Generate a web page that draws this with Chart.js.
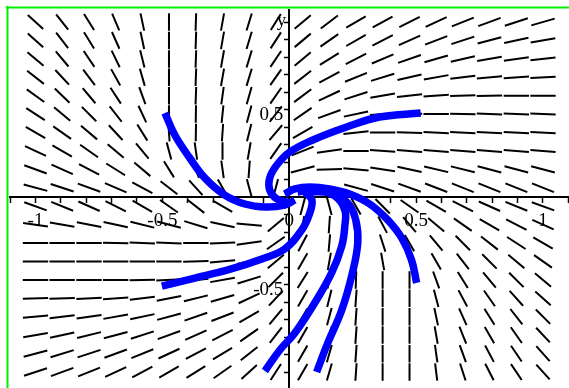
<!DOCTYPE html>
<html>
<head>
<meta charset="utf-8">
<script src="https://cdn.jsdelivr.net/npm/chart.js@4.4.1/dist/chart.umd.min.js"></script>
<style>
html, body { margin: 0; padding: 0; background: #fff; }
#view-canvas { display: block; }
</style>
</head>
<body>
<canvas id="view-canvas" width="569" height="388"></canvas>
<script>
var canvas = document.getElementById('view-canvas');

// direction field grid (20 x 20)
var fieldX = [-1, -0.895, -0.789, -0.684, -0.579, -0.474, -0.368, -0.263, -0.158, -0.053,
              0.053, 0.158, 0.263, 0.368, 0.474, 0.579, 0.684, 0.789, 0.895, 1];
var fieldY = [1, 0.895, 0.789, 0.684, 0.579, 0.474, 0.368, 0.263, 0.158, 0.053,
              -0.053, -0.158, -0.263, -0.368, -0.474, -0.579, -0.684, -0.789, -0.895, -1];

// slope of each field mark as seen on screen, degrees (rows top to bottom)
var fieldAngles = [
    [-42, -52, -58, -67, -78, 90, 88, 80, 73, 58, 40, 37, 30, 29, 27, 25, 22, 20, 18, 16],
    [-42, -52, -58, -66, -78, 90, 88, 80, 73, 57, 40, 35, 30, 27, 24, 21, 18, 15, 12, 10],
    [-40, -50, -56, -64, -76, 90, 88, 80, 73, 56, 40, 32, 27, 23, 19, 16, 13, 10, 8, 6],
    [-38, -47, -53, -61, -74, 90, 88, 80, 73, 55, 38, 28, 22, 17, 13, 10, 7, 5, 4, 3],
    [-36, -44, -50, -57, -70, 90, 88, 82, 74, 55, 37, 25, 18, 10, 6, 4, 2, 1, 0, 0],
    [-33, -40, -45, -52, -65, 90, 89, 84, 75, 52, 35, 20, 12, 4, 1, 0, -1, -2, -2, -2],
    [-30, -35, -40, -47, -58, -86, 89, 86, 76, 50, 30, 15, 6, 0, -2, -3, -3, -3, -3, -3],
    [-25, -30, -35, -40, -50, -75, -82, 90, 80, 55, 22, 8, 0, -4, -5, -5, -5, -5, -5, -5],
    [-20, -24, -28, -32, -40, -58, -70, -82, 86, 62, 15, 2, -5, -9, -12, -13, -14, -15, -15, -15],
    [-15, -18, -20, -23, -28, -38, -48, -60, -75, 75, 0, -10, -15, -18, -20, -21, -22, -22, -22, -22],
    [-20, -22, -24, -27, -30, -35, -38, -30, -15, 0, 75, -75, -60, -45, -35, -30, -27, -24, -22, -20],
    [-8, -10, -11, -12, -14, -15, -17, -12, -5, 40, 80, 86, -82, -62, -50, -40, -35, -30, -27, -24],
    [0, 0, 0, -1, -2, -2, 0, 2, 8, 35, 62, 85, 90, -72, -60, -50, -45, -38, -33, -30],
    [0, 0, 0, 0, 0, 0, 2, 5, 12, 40, 60, 80, 90, -80, -74, -60, -52, -45, -40, -35],
    [0, 0, 0, 0, 1, 3, 6, 10, 17, 45, 58, 78, 88, 90, 90, -70, -58, -50, -45, -40],
    [2, 2, 3, 4, 7, 11, 14, 16, 25, 47, 60, 76, 86, 90, 90, -75, -62, -55, -48, -42],
    [5, 7, 8, 10, 12, 15, 19, 21, 30, 50, 60, 75, 86, 90, 90, -78, -66, -58, -52, -45],
    [10, 12, 14, 15, 18, 20, 24, 27, 35, 52, 60, 75, 86, 90, 90, -80, -68, -60, -55, -47],
    [15, 17, 18, 20, 22, 25, 28, 31, 38, 55, 60, 74, 86, 90, 90, -82, -70, -62, -56, -48],
    [18, 20, 22, 25, 28, 30, 32, 35, 42, 57, 60, 74, 86, 90, 90, -83, -72, -63, -56, -48]
];

// solution curves [x, y]
var curve1 = [[-0.490, 0.480], [-0.451, 0.354], [-0.392, 0.223], [-0.333, 0.109], [-0.254, 0.011],
              [-0.175, -0.040], [-0.096, -0.057], [-0.018, -0.046], [0.022, -0.017]];
var curve2 = [[0.518, 0.480], [0.356, 0.457], [0.226, 0.400], [0.093, 0.326], [0.002, 0.257],
              [-0.049, 0.183], [-0.077, 0.109], [-0.077, 0.040], [-0.049, -0.011], [0.002, -0.034]];
var curve3 = [[-0.502, -0.509], [-0.372, -0.463], [-0.242, -0.417], [-0.108, -0.354], [-0.018, -0.297],
              [0.049, -0.189], [0.081, -0.091], [0.089, -0.017], [0.061, 0.029]];
var curve4 = [[0.502, -0.491], [0.482, -0.360], [0.443, -0.234], [0.388, -0.131], [0.317, -0.040],
              [0.238, 0.017], [0.159, 0.046], [0.081, 0.057], [0.022, 0.046], [-0.018, 0.017]];
var curve5 = [[-0.096, -0.994], [-0.037, -0.874], [0.022, -0.777], [0.100, -0.606], [0.167, -0.434],
              [0.207, -0.280], [0.219, -0.166], [0.219, -0.074], [0.179, 0.006], [0.100, 0.040], [0.033, 0.029]];
var curve6 = [[0.108, -1.0], [0.152, -0.834], [0.207, -0.646], [0.246, -0.451], [0.270, -0.263],
              [0.262, -0.131], [0.230, -0.034], [0.159, 0.023], [0.061, 0.029]];

// axis labels
var xLabelValues = [-1, -0.5, 0, 0.5, 1];
var xLabelTexts = ['-1', '-0.5', '0', '0.5', '1'];
var yLabelValues = [0.5, -0.5];
var yLabelTexts = ['0.5', '-0.5'];
var yAxisTitle = 'y';

var X_MIN = -1.1005, X_MAX = 1.1025;
var Y_MIN = -1.0914, Y_MAX = 1.0686;
var PAD = 10;
var SEG_HALF = 0.05;
var LABEL_FONT = '19px "Liberation Serif", "DejaVu Serif", serif';

function range(from, to, step) {
    var out = [];
    var n = Math.round((to - from) / step);
    for (var i = 0; i <= n; ++i) out.push(Math.round((from + i * step) * 100) / 100);
    return out;
}

// short marks of the direction field, separated by gaps
function fieldSegments() {
    var xpx = (canvas.width - PAD) / (X_MAX - X_MIN);
    var ypx = (canvas.height - PAD) / (Y_MAX - Y_MIN);
    var data = [];
    fieldY.forEach(function (cy, j) {
        fieldX.forEach(function (cx, i) {
            var a = fieldAngles[j][i] * Math.PI / 180;
            var dx = Math.cos(a) / xpx, dy = Math.sin(a) / ypx;
            var n = Math.sqrt(dx * dx + dy * dy);
            dx = dx / n * SEG_HALF;
            dy = dy / n * SEG_HALF;
            data.push({ x: cx - dx, y: cy - dy }, { x: cx + dx, y: cy + dy }, { x: cx, y: null });
        });
    });
    return data;
}

function curveDataset(points) {
    return {
        data: points.map(function (p) { return { x: p[0], y: p[1] }; }),
        showLine: true,
        borderColor: 'rgb(0, 0, 255)',
        borderWidth: 7.5,
        pointRadius: 0,
        tension: 0.4,
        order: 0
    };
}

var decor = {
    id: 'decor',
    beforeDraw: function (chart) {
        var c = chart.ctx;
        c.save();
        c.fillStyle = '#fff';
        c.fillRect(0, 0, chart.width, chart.height);
        c.strokeStyle = 'rgb(0, 240, 0)';
        c.lineWidth = 2;
        c.beginPath();
        c.moveTo(6, 7.5);
        c.lineTo(chart.width, 7.5);
        c.moveTo(7.5, 6);
        c.lineTo(7.5, chart.height);
        c.stroke();
        c.restore();
    },
    afterDatasetsDraw: function (chart) {
        var c = chart.ctx;
        var sx = chart.scales.x, sy = chart.scales.y;
        var x0 = sx.getPixelForValue(0), y0 = sy.getPixelForValue(0);
        c.save();
        c.fillStyle = '#000';
        c.font = LABEL_FONT;
        c.textBaseline = 'alphabetic';
        c.textAlign = 'center';
        xLabelValues.forEach(function (v, i) {
            c.fillText(xLabelTexts[i], sx.getPixelForValue(v), y0 + 29);
        });
        c.textAlign = 'right';
        yLabelValues.forEach(function (v, i) {
            c.fillText(yLabelTexts[i], x0 - 6, sy.getPixelForValue(v) + 10);
        });
        c.fillText(yAxisTitle, x0 - 3, sy.getPixelForValue(1) + 4);
        c.restore();
    }
};

var xTicks = range(-1.1, 1.1, 0.1);
var yTicks = range(-1.0, 1.0, 0.1);

var myChart = new Chart(canvas, {
    type: 'scatter',
    data: {
        datasets: [
            curveDataset(curve1), curveDataset(curve2), curveDataset(curve3),
            curveDataset(curve4), curveDataset(curve5), curveDataset(curve6),
            {
                data: fieldSegments(),
                showLine: true,
                spanGaps: false,
                borderColor: '#000',
                borderWidth: 2,
                pointRadius: 0,
                tension: 0,
                order: 1
            }
        ]
    },
    options: {
        responsive: false,
        animation: false,
        devicePixelRatio: 1,
        layout: { padding: { left: PAD, top: PAD, right: 0, bottom: 0 } },
        plugins: { legend: { display: false }, tooltip: { enabled: false } },
        scales: {
            x: {
                type: 'linear',
                min: X_MIN,
                max: X_MAX,
                position: { y: 0 },
                afterBuildTicks: function (scale) {
                    scale.ticks = xTicks.map(function (v) { return { value: v }; });
                },
                ticks: { display: false },
                grid: { drawOnChartArea: false, drawTicks: true, tickLength: 5, tickWidth: 1.5, tickColor: '#000' },
                border: { display: true, color: '#000', width: 2 }
            },
            y: {
                type: 'linear',
                min: Y_MIN,
                max: Y_MAX,
                position: { x: 0 },
                afterBuildTicks: function (scale) {
                    scale.ticks = yTicks.map(function (v) { return { value: v }; });
                },
                ticks: { display: false },
                grid: { drawOnChartArea: false, drawTicks: true, tickLength: 4, tickWidth: 1.5, tickColor: '#000' },
                border: { display: true, color: '#000', width: 2 }
            }
        }
    },
    plugins: [decor]
});
</script>
</body>
</html>
